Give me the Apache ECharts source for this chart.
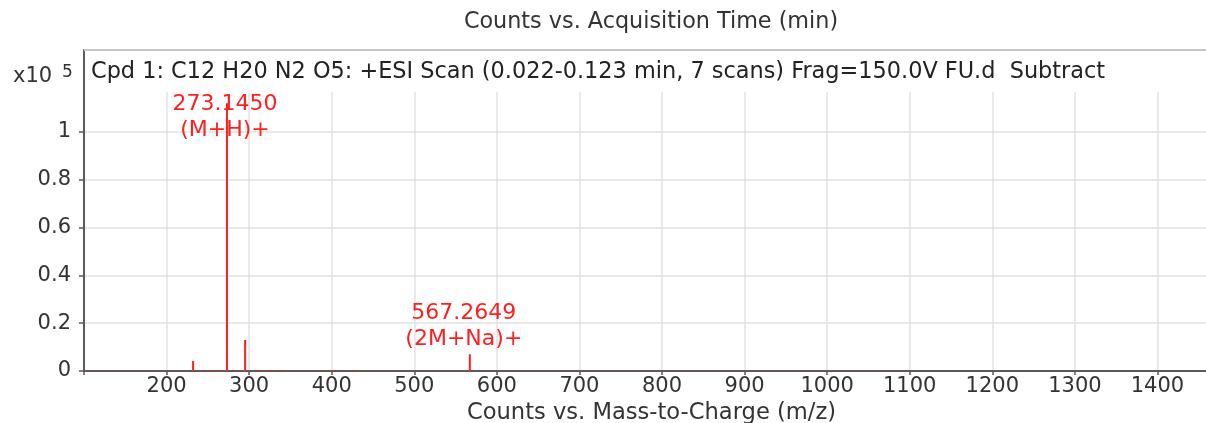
<!DOCTYPE html>
<html>
<head>
<meta charset="utf-8">
<script src="https://cdn.jsdelivr.net/npm/echarts@6/dist/echarts.min.js"></script>
<style>
  html, body { margin: 0; padding: 0; background: #fff; }
  #chart { width: 1206px; height: 423px; }
</style>
</head>
<body>
<div id="chart"></div>
<script>
// Mass spectrum, intensities in units of 10^5 counts
const mzValues    = [232.1, 245.2, 255.1, 263.3, 273.1450, 295.13, 311.2, 324.8, 336.1, 403.9, 427.0, 567.2649];
const intensities = [0.042, 0.004, 0.004, 0.004, 1.12,     0.13,   0.004, 0.003, 0.003, 0.003, 0.003, 0.07];

// Annotated ions
const labelledMz   = [273.1450, 567.2649];
const labelledIons = ['(M+H)+', '(2M+Na)+'];

// Acquired scan range (m/z)
const scanRange = [100, 1100];

// Axis ticks
const xTickValues = [200, 300, 400, 500, 600, 700, 800, 900, 1000, 1100, 1200, 1300, 1400];
const xTickMarks  = [100, 200, 300, 400, 500, 600, 700, 800, 900, 1000, 1100, 1200, 1300, 1400];
const yTickValues = [0, 0.2, 0.4, 0.6, 0.8, 1];

const titleText  = 'Counts vs. Acquisition Time (min)';
const headerText = 'Cpd 1: C12 H20 N2 O5: +ESI Scan (0.022-0.123 min, 7 scans) Frag=150.0V FU.d  Subtract';
const xAxisTitle = 'Counts vs. Mass-to-Charge (m/z)';

const FONT = 'DejaVu Sans';
const TEXT = '#333';
const RED = '#ff1f1f';

const peakData = mzValues.map((mz, i) => {
  const k = labelledMz.indexOf(mz);
  const item = { value: [mz, intensities[i]] };
  if (k >= 0) {
    item.label = {
      show: true,
      position: 'top',
      formatter: mz.toFixed(4) + '\n' + labelledIons[k],
      color: RED,
      fontFamily: FONT,
      fontSize: 22,
      lineHeight: 26,
      offset: k === 0 ? [-2, 45] : [-6, 3]
    };
  }
  return item;
});

const chart = echarts.init(document.getElementById('chart'), null, { renderer: 'canvas' });

chart.setOption({
  animation: false,
  backgroundColor: '#fff',
  grid: { left: 84, right: -1, top: 50, bottom: 52, containLabel: false, outerBoundsMode: 'none' },
  xAxis: {
    type: 'value',
    min: 100,
    max: 1460,
    interval: 100,
    name: xAxisTitle,
    nameLocation: 'middle',
    nameGap: 31,
    nameTextStyle: { color: TEXT, fontFamily: FONT, fontSize: 22.6, padding: [0, 0, 0, 12] },
    axisLine: { show: true, onZero: false, lineStyle: { color: '#5a5a5a', width: 2 } },
    axisTick: { show: true, customValues: xTickMarks, length: 4, lineStyle: { color: '#5a5a5a', width: 1.5 } },
    axisLabel: {
      customValues: xTickValues, color: TEXT, fontFamily: FONT, fontSize: 21, margin: 5,
      formatter: v => String(v)
    },
    splitLine: { show: true, lineStyle: { color: '#e2e2e2', width: 1.5 } }
  },
  yAxis: {
    type: 'value',
    min: 0,
    max: 1.343,
    interval: 0.2,
    axisLine: { show: true, lineStyle: { color: '#5a5a5a', width: 2 } },
    axisTick: { show: true, customValues: yTickValues, length: 5, lineStyle: { color: '#5a5a5a', width: 1.5 } },
    axisLabel: { customValues: yTickValues, color: TEXT, fontFamily: FONT, fontSize: 21, margin: 13 },
    splitLine: { show: true, lineStyle: { color: '#e2e2e2', width: 1.5 } }
  },
  series: [
    {
      // baseline trace over the acquired range
      type: 'line',
      data: scanRange.map(mz => [mz, 0]),
      symbol: 'none',
      lineStyle: { color: 'rgba(190, 70, 70, 0.45)', width: 1 },
      z: 3,
      silent: true
    },
    {
      type: 'bar',
      data: peakData,
      barWidth: 2,
      itemStyle: { color: RED },
      z: 4
    }
  ],
  graphic: [
    {
      type: 'rect',
      shape: { x: 85, y: 51, width: 1125, height: 41 },
      style: { fill: '#fff' },
      z: 10
    },
    {
      type: 'line',
      shape: { x1: 84, y1: 50, x2: 1206, y2: 50 },
      style: { stroke: '#c6c6c6', lineWidth: 2 },
      z: 11
    },
    {
      type: 'text',
      x: 91, y: 72,
      style: { text: headerText, fill: '#222', font: '22.4px "' + FONT + '"', textVerticalAlign: 'middle' },
      z: 12
    },
    {
      type: 'text',
      x: 651, y: 22,
      style: { text: titleText, fill: TEXT, font: '22.3px "' + FONT + '"', textAlign: 'center', textVerticalAlign: 'middle' },
      z: 12
    },
    {
      type: 'text',
      x: 13, y: 77,
      style: { text: 'x10', fill: TEXT, font: '21px "' + FONT + '"', textVerticalAlign: 'middle' },
      z: 12
    },
    {
      type: 'text',
      x: 62, y: 73,
      style: { text: '5', fill: TEXT, font: '17px "' + FONT + '"', textVerticalAlign: 'middle' },
      z: 12
    }
  ]
});
</script>
</body>
</html>
